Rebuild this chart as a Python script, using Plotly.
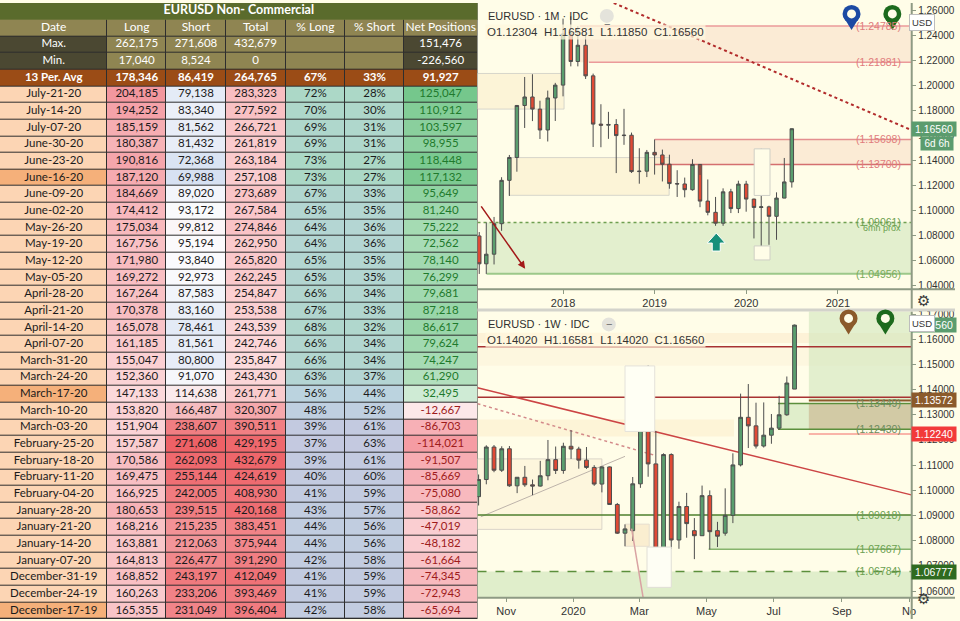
import plotly.graph_objects as go

W, H = 960, 621

# ---------------- COT table: EURUSD non-commercial ----------------
dates = ["July-21-20", "July-14-20", "July-07-20", "June-30-20", "June-23-20", "June-16-20",
         "June-09-20", "June-02-20", "May-26-20", "May-19-20", "May-12-20", "May-05-20",
         "April-28-20", "April-21-20", "April-14-20", "April-07-20", "March-31-20", "March-24-20",
         "March-17-20", "March-10-20", "March-03-20", "February-25-20", "February-18-20",
         "February-11-20", "February-04-20", "January-28-20", "January-21-20", "January-14-20",
         "January-07-20", "December-31-19", "December-24-19", "December-17-19"]
long_pos = [204185, 194252, 185159, 180387, 190816, 187120, 184669, 174412, 175034, 167756, 171980,
            169272, 167264, 170378, 165078, 161185, 155047, 152360, 147133, 153820, 151904, 157587,
            170586, 169475, 166925, 180653, 168216, 163881, 164813, 168852, 160263, 165355]
short_pos = [79138, 83340, 81562, 81432, 72368, 69988, 89020, 93172, 99812, 95194, 93840, 92973,
             87583, 83160, 78461, 81561, 80800, 91070, 114638, 166487, 238607, 271608, 262093,
             255144, 242005, 239515, 215235, 212063, 226477, 243197, 233206, 231049]
total_pos = [283323, 277592, 266721, 261819, 263184, 257108, 273689, 267584, 274846, 262950, 265820,
             262245, 254847, 253538, 243539, 242746, 235847, 243430, 261771, 320307, 390511, 429195,
             432679, 424619, 408930, 420168, 383451, 375944, 391290, 412049, 393469, 396404]
pct_long = [72, 70, 69, 69, 73, 73, 67, 65, 64, 64, 65, 65, 66, 67, 68, 66, 66, 63, 56, 48, 39, 37,
            39, 40, 41, 43, 44, 44, 42, 41, 41, 42]
pct_short = [28, 30, 31, 31, 27, 27, 33, 35, 36, 36, 35, 35, 34, 33, 32, 34, 34, 37, 44, 52, 61, 63,
             61, 60, 59, 57, 56, 56, 58, 59, 59, 58]
net_pos = [125047, 110912, 103597, 98955, 118448, 117132, 95649, 81240, 75222, 72562, 78140, 76299,
           79681, 87218, 86617, 79624, 74247, 61290, 32495, -12667, -86703, -114021, -91507, -85669,
           -75080, -58862, -47019, -48182, -61664, -74345, -72943, -65694]
highlight_dates = ["June-16-20", "March-17-20", "December-17-19"]

table_title = "EURUSD Non- Commercial"
columns = ["Date", "Long", "Short", "Total", "% Long", "% Short", "Net Positions"]
max_row = ["Max.", 262175, 271608, 432679, None, None, 151476]
min_row = ["Min.", 17040, 8524, 0, None, None, -226560]
avg_row = ["13 Per. Avg", 178346, 86419, 264765, 67, 33, 91927]

# ---------------- EURUSD monthly candles ----------------
m_dates = ["2017-02-01", "2017-03-01", "2017-04-01", "2017-05-01", "2017-06-01", "2017-07-01",
           "2017-08-01", "2017-09-01", "2017-10-01", "2017-11-01", "2017-12-01",
           "2018-01-01", "2018-02-01", "2018-03-01", "2018-04-01", "2018-05-01", "2018-06-01",
           "2018-07-01", "2018-08-01", "2018-09-01", "2018-10-01", "2018-11-01", "2018-12-01",
           "2019-01-01", "2019-02-01", "2019-03-01", "2019-04-01", "2019-05-01", "2019-06-01",
           "2019-07-01", "2019-08-01", "2019-09-01", "2019-10-01", "2019-11-01", "2019-12-01",
           "2020-01-01", "2020-02-01", "2020-03-01", "2020-04-01", "2020-05-01", "2020-06-01",
           "2020-07-01"]
m_open = [1.0798, 1.0575, 1.0652, 1.0896, 1.1243, 1.1426, 1.1842, 1.1910, 1.1813, 1.1646, 1.1902,
          1.2005, 1.2414, 1.2194, 1.2324, 1.2079, 1.1693, 1.1684, 1.1690, 1.1601, 1.1604, 1.1313, 1.1316,
          1.1467, 1.1446, 1.1372, 1.1217, 1.1214, 1.1168, 1.1370, 1.1077, 1.0987, 1.0900, 1.1151, 1.1017,
          1.1213, 1.1093, 1.1026, 1.1031, 1.0955, 1.1101, 1.12304]
m_high = [1.0829, 1.0906, 1.0950, 1.1268, 1.1446, 1.1846, 1.2070, 1.2092, 1.1880, 1.1961, 1.2023,
          1.2537, 1.2556, 1.2476, 1.2414, 1.2097, 1.1852, 1.1791, 1.1733, 1.1815, 1.1625, 1.1500, 1.1486,
          1.1570, 1.1489, 1.1448, 1.1324, 1.1265, 1.1412, 1.1286, 1.1250, 1.1110, 1.1179, 1.1175, 1.1240,
          1.1239, 1.1096, 1.1496, 1.1040, 1.1147, 1.1422, 1.16581]
m_low = [1.0494, 1.0494, 1.0570, 1.0839, 1.1118, 1.1312, 1.1662, 1.1717, 1.1574, 1.1554, 1.1718,
         1.1915, 1.2155, 1.2155, 1.2054, 1.1510, 1.1508, 1.1575, 1.1301, 1.1527, 1.1302, 1.1216, 1.1269,
         1.1289, 1.1234, 1.1176, 1.1110, 1.1107, 1.1160, 1.1028, 1.0963, 1.0879, 1.0879, 1.0981, 1.0981,
         1.0992, 1.0778, 1.0636, 1.0727, 1.0767, 1.1100, 1.11850]
m_close = [1.0575, 1.0652, 1.0896, 1.1243, 1.1426, 1.1842, 1.1910, 1.1813, 1.1646, 1.1902, 1.2005,
           1.2414, 1.2194, 1.2324, 1.2079, 1.1693, 1.1684, 1.1690, 1.1601, 1.1604, 1.1313, 1.1316, 1.1467,
           1.1446, 1.1372, 1.1217, 1.1214, 1.1168, 1.1370, 1.1077, 1.0987, 1.0900, 1.1151, 1.1017, 1.1213,
           1.1093, 1.1026, 1.1031, 1.0955, 1.1101, 1.12304, 1.16560]

# ---------------- EURUSD weekly candles ----------------
w_dates = ["2019-10-07", "2019-10-14", "2019-10-21", "2019-10-28", "2019-11-04", "2019-11-11",
           "2019-11-18", "2019-11-25", "2019-12-02", "2019-12-09", "2019-12-16", "2019-12-23",
           "2019-12-30", "2020-01-06", "2020-01-13", "2020-01-20", "2020-01-27", "2020-02-03",
           "2020-02-10", "2020-02-17", "2020-02-24", "2020-03-02", "2020-03-09", "2020-03-16",
           "2020-03-23", "2020-03-30", "2020-04-06", "2020-04-13", "2020-04-20", "2020-04-27",
           "2020-05-04", "2020-05-11", "2020-05-18", "2020-05-25", "2020-06-01", "2020-06-08",
           "2020-06-15", "2020-06-22", "2020-06-29", "2020-07-06", "2020-07-13", "2020-07-20"]
w_open = [1.0975, 1.1043, 1.1172, 1.1080, 1.1165, 1.1018, 1.1052, 1.1022, 1.1017, 1.1058, 1.1122,
          1.1079, 1.1175, 1.1164, 1.1120, 1.1091, 1.1025, 1.1093, 1.0944, 1.0830, 1.0840, 1.1026,
          1.1284, 1.1105, 1.0692, 1.1142, 1.0803, 1.0936, 1.0840, 1.0820, 1.0979, 1.0840, 1.0830,
          1.0901, 1.1101, 1.1290, 1.1256, 1.1176, 1.1219, 1.1247, 1.1300, 1.14020]
w_high = [1.1063, 1.1179, 1.1180, 1.1175, 1.1176, 1.1052, 1.1097, 1.1043, 1.1117, 1.1200, 1.1174,
          1.1189, 1.1239, 1.1173, 1.1172, 1.1100, 1.1096, 1.1095, 1.0950, 1.0865, 1.1053, 1.1355,
          1.1496, 1.1236, 1.1147, 1.1147, 1.0955, 1.0990, 1.0890, 1.1019, 1.1000, 1.0875, 1.1008,
          1.1147, 1.1384, 1.1422, 1.1348, 1.1349, 1.1303, 1.1375, 1.1452, 1.16581]
w_low = [1.0940, 1.1024, 1.1072, 1.1073, 1.1014, 1.0989, 1.1014, 1.0981, 1.1015, 1.1040, 1.1065,
         1.1066, 1.1125, 1.1086, 1.1085, 1.1018, 1.0992, 1.0942, 1.0827, 1.0778, 1.0799, 1.1010,
         1.1054, 1.0636, 1.0636, 1.0768, 1.0768, 1.0812, 1.0727, 1.0820, 1.0766, 1.0775, 1.0820,
         1.0870, 1.1095, 1.1168, 1.1166, 1.1170, 1.1185, 1.1240, 1.1296, 1.14020]
w_close = [1.1043, 1.1172, 1.1080, 1.1165, 1.1018, 1.1052, 1.1022, 1.1017, 1.1058, 1.1122, 1.1079,
           1.1175, 1.1164, 1.1120, 1.1091, 1.1025, 1.1093, 1.0944, 1.0830, 1.0847, 1.1026, 1.1284,
           1.1105, 1.0692, 1.1142, 1.0803, 1.0936, 1.0868, 1.0820, 1.0979, 1.0836, 1.0818, 1.0901,
           1.1101, 1.1290, 1.1256, 1.1176, 1.1219, 1.1247, 1.1300, 1.1426, 1.16560]

# ---------------- style ----------------
BG = "#fffde8"
TFONT = "Lato"
CFONT = "Liberation Sans"
TITLE_C, KHAKI, DARK, RUST = "#5a6b2c", "#8f8552", "#4b4832", "#9b4c16"
PEACH, PEACH_HI, BORDER = "#fcd5b4", "#f5b07a", "#2e2e2e"
UP, DOWN, EDGE = "#5a9e6e", "#e04a35", "#4d4d4d"
AXIS = "#8e9a84"
M_RANGE = ["2017-01-25", "2021-10-20"]
W_RANGE = ["2019-10-06", "2020-11-03"]


def px(x):
    return x / W


def py(y):
    return 1 - y / H


def rgb(h):
    h = h.lstrip("#")
    return [int(h[i:i + 2], 16) for i in (0, 2, 4)]


def mix(c1, c2, t):
    t = min(max(t, 0.0), 1.0)
    a, b = rgb(c1), rgb(c2)
    return "#%02x%02x%02x" % tuple(round(a[i] + (b[i] - a[i]) * t) for i in range(3))


def fmt(v):
    return "" if v is None else f"{v:,}"


# conditional-format colours (like the excel sheet)
lo_l, hi_l = min(long_pos), max(long_pos)
long_fill = [mix("#fcd9db", "#f3979e", (v - lo_l) / (hi_l - lo_l)) for v in long_pos]
s = sorted(short_pos)
med = (s[len(s) // 2 - 1] + s[len(s) // 2]) / 2
short_fill = [mix("#d7e1f2", "#fbfbfd", (v - s[0]) / (med - s[0])) if v <= med
              else mix("#fbfbfd", "#ee6166", (v - med) / (s[-1] - med)) for v in short_pos]
lo_t, hi_t = min(total_pos), max(total_pos)
total_fill = [mix("#fcdadc", "#ee666b", (v - lo_t) / (hi_t - lo_t)) for v in total_pos]
pct_fill = [mix("#c4c9e0", "#bcd3e0", (p - 37) / 18) if p <= 55
            else mix("#bcd3e0", "#abd8c6", (p - 55) / 18) for p in pct_long]
mx_n, mn_n = max(net_pos), min(net_pos)
net_fill = [mix("#eef8ef", "#75c78c", v / mx_n) if v >= 0 else mix("#fdf1f2", "#f59ca3", v / mn_n)
            for v in net_pos]

rows_txt, rows_fill, rows_font = [], [], []
rows_txt.append(columns)
rows_fill.append([KHAKI] * 7)
rows_font.append(["white"] * 7)
for r in (max_row, min_row):
    rows_txt.append([r[0]] + [fmt(v) for v in r[1:]])
    rows_fill.append([DARK, KHAKI, KHAKI, KHAKI, KHAKI, KHAKI, DARK])
    rows_font.append(["white"] * 7)
avg_txt = [avg_row[0], fmt(avg_row[1]), fmt(avg_row[2]), fmt(avg_row[3]),
           f"{avg_row[4]}%", f"{avg_row[5]}%", fmt(avg_row[6])]
rows_txt.append(["<b>%s</b>" % t for t in avg_txt])
rows_fill.append([RUST] * 7)
rows_font.append(["white"] * 7)
for i, d in enumerate(dates):
    rows_txt.append([d, fmt(long_pos[i]), fmt(short_pos[i]), fmt(total_pos[i]),
                     f"{pct_long[i]}%", f"{pct_short[i]}%", fmt(net_pos[i])])
    rows_fill.append([PEACH_HI if d in highlight_dates else PEACH, long_fill[i], short_fill[i],
                      total_fill[i], pct_fill[i], pct_fill[i], net_fill[i]])
    rows_font.append(["#1b1b1b"] * 6 + ["#1f7a2c" if net_pos[i] >= 0 else "#9e1b1b"])

palette = []


def cidx(c):
    if c not in palette:
        palette.append(c)
    return palette.index(c) + 0.5


z_main = [[cidx(c) for c in row] for row in rows_fill]
z_title = [[cidx(TITLE_C)]]
N = len(palette)
cscale = []
for k, c in enumerate(palette):
    cscale += [[k / N, c], [(k + 1) / N, c]]

col_edges = [0, 108, 167, 227, 287, 347, 406, 480]
col_mid = [(a + b) / 2 for a, b in zip(col_edges[:-1], col_edges[1:])]
n_rows = len(rows_txt)
row_edges = [i + 0.5 for i in range(n_rows + 1)]

fig = go.Figure()
fig.add_trace(go.Heatmap(x=[0, 480], y=[-0.5, 0.5], z=z_title, zmin=0, zmax=N, colorscale=cscale,
                         showscale=False, hoverinfo="skip", xaxis="x3", yaxis="y3"))
fig.add_trace(go.Heatmap(x=col_edges, y=row_edges, z=z_main, zmin=0, zmax=N, colorscale=cscale,
                         showscale=False, hoverinfo="skip", xgap=1, ygap=1, xaxis="x3", yaxis="y3"))

tx, ty, tt, tc, ts = [240], [0], ["<b>%s</b>" % table_title], ["white"], [12.5]
for r, row in enumerate(rows_txt):
    for j, t in enumerate(row):
        tx.append(col_mid[j])
        ty.append(r + 1)
        tt.append(t)
        tc.append(rows_font[r][j])
        ts.append(12 if r == 0 else 11.5)
fig.add_trace(go.Scatter(x=tx, y=ty, text=tt, mode="text", textposition="middle center",
                         textfont=dict(family=TFONT, size=ts, color=tc), hoverinfo="skip",
                         xaxis="x3", yaxis="y3"))

candle_style = dict(increasing=dict(fillcolor=UP, line=dict(color=EDGE, width=1)),
                    decreasing=dict(fillcolor=DOWN, line=dict(color=EDGE, width=1)),
                    showlegend=False, hoverinfo="skip")
fig.add_trace(go.Candlestick(x=m_dates, open=m_open, high=m_high, low=m_low, close=m_close,
                             xaxis="x", yaxis="y", **candle_style))
fig.add_trace(go.Candlestick(x=w_dates, open=w_open, high=w_high, low=w_low, close=w_close,
                             xaxis="x2", yaxis="y2", **candle_style))

shapes, ann = [], []


def line(x0, y0, x1, y1, xr, yr, color, width=1.5, dash="solid", layer="below"):
    shapes.append(dict(type="line", xref=xr, yref=yr, x0=x0, y0=y0, x1=x1, y1=y1, layer=layer,
                       line=dict(color=color, width=width, dash=dash)))


def rect(x0, y0, x1, y1, xr, yr, fill, edge=None, layer="below"):
    shapes.append(dict(type="rect", xref=xr, yref=yr, x0=x0, y0=y0, x1=x1, y1=y1, layer=layer,
                       fillcolor=fill, line=dict(color=edge or "rgba(0,0,0,0)", width=1 if edge else 0)))


def label(text, y, yr, color, size=10.5):
    ann.append(dict(text=text, xref="paper", yref=yr, x=px(908), y=y, xanchor="right",
                    yanchor="middle", showarrow=False, font=dict(family=CFONT, size=size, color=color)))


def price_tag(text, y, yr, bg, xc=938.5, width=42, size=10.5):
    ann.append(dict(text=text, xref="paper", yref=yr, x=px(xc), y=y, xanchor="center",
                    yanchor="middle", showarrow=False, bgcolor=bg, width=width, borderpad=1,
                    font=dict(family=CFONT, size=size, color="white")))


# table border background
rect(0, 0, 0.5, 1, "paper", "paper", BORDER)

# ---- monthly chart drawings ----
xr, yr = "x", "y"
rect("2018-03-09", 1.21881, M_RANGE[1], 1.24785, xr, yr, "rgba(247,212,190,0.45)")
rect("2019-01-01", 1.13700, M_RANGE[1], 1.15698, xr, yr, "rgba(247,212,190,0.45)")
rect(M_RANGE[0], 1.1813, "2018-01-05", 1.2098, xr, yr, "rgba(250,236,200,0.55)", "rgba(205,205,198,0.8)")
rect("2017-05-31", 1.1123, "2019-02-28", 1.1425, xr, yr, "rgba(250,236,200,0.55)", "rgba(205,205,198,0.8)")
rect("2017-03-02", 1.04956, M_RANGE[1], 1.09061, xr, yr, "rgba(208,230,188,0.6)")
line("2018-03-09", 1.24785, M_RANGE[1], 1.24785, xr, yr, "#eb9a9a")
line("2018-04-14", 1.21881, M_RANGE[1], 1.21881, xr, yr, "#eb9a9a")
line("2019-01-01", 1.15698, M_RANGE[1], 1.15698, xr, yr, "#e48f8f")
line("2019-01-01", 1.13700, M_RANGE[1], 1.13700, xr, yr, "#d46f6f")
line("2017-03-02", 1.04956, M_RANGE[1], 1.04956, xr, yr, "#9cc88a", 2)
line(M_RANGE[0], 1.09061, M_RANGE[1], 1.09061, xr, yr, "#6f9f50", 1.5, "dot")
line("2018-07-22", 1.2662, M_RANGE[1], 1.1646, xr, yr, "#b22b2b", 2, "dot", "above")
rect("2020-02-02", 1.1122, "2020-04-05", 1.1495, xr, yr, BG, "#cfcfc6", "above")
rect("2020-02-02", 1.0606, "2020-04-05", 1.0718, xr, yr, BG, "#cfcfc6", "above")
ann.append(dict(text="", x="2017-08-03", y=1.0535, xref=xr, yref=yr, ax=-45, ay=-64, showarrow=True,
                arrowhead=2, arrowsize=1, arrowwidth=1.5, arrowcolor="#a31919"))
for t, v in (("(1.24785)", 1.24785), ("(1.21881)", 1.21881), ("(1.15698)", 1.15698), ("(1.13700)", 1.137)):
    label(t, v, yr, "#e07c7c")
label("(1.09061)", 1.09061, yr, "#6a9f4f")
label("6mn prox", 1.0858, yr, "#6a9f4f", 9)
label("(1.04956)", 1.04956, yr, "#7aaa5a")

# ---- weekly chart drawings ----
xr, yr = "x2", "y2"
W0, W1 = W_RANGE
rect(W0, 1.1585, W1, 1.1625, xr, yr, "rgba(250,226,190,0.4)")
rect(W0, 1.1495, W1, 1.1565, xr, yr, "rgba(250,236,205,0.35)")
rect(W0, 1.1214, "2020-05-26", 1.1281, xr, yr, "rgba(250,232,195,0.45)")
rect(W0, 1.0845, "2020-01-27", 1.1125, xr, yr, "rgba(250,236,205,0.4)", "rgba(210,205,195,0.8)")
rect("2020-02-17", 1.0778, "2020-03-10", 1.0866, xr, yr, "rgba(250,236,205,0.9)", "#e6dfd0")
rect("2020-05-03", 1.07667, W1, 1.09018, xr, yr, "rgba(208,230,188,0.65)")
rect(W0, 1.0560, W1, 1.06784, xr, yr, "rgba(208,230,188,0.65)")
rect("2020-08-02", 1.1357, W1, 1.1720, xr, yr, "rgba(208,230,188,0.6)")
rect("2020-07-05", 1.1243, W1, 1.13449, xr, yr, "rgba(208,230,188,0.65)")
rect("2020-08-02", 1.1243, W1, 1.13449, xr, yr, "rgba(196,166,128,0.5)")
line(W0, 1.15698, W1, 1.15698, xr, yr, "#a83232")
line(W0, 1.13700, W1, 1.13700, xr, yr, "#a83232")
line(W0, 1.1407, W1, 1.0982, xr, yr, "#cc4444")
line(W0, 1.1344, "2020-03-15", 1.1139, xr, yr, "#d38a8a", 1.5, "dot")
line("2019-10-09", 1.0895, "2020-02-17", 1.1135, xr, yr, "#bdb3aa", 1)
line("2020-02-23", 1.0848, "2020-03-05", 1.0560, xr, yr, "#d9a3a3", 1.5, "solid", "above")
line(W0, 1.09018, W1, 1.09018, xr, yr, "#4e7f2e")
line("2020-05-03", 1.07667, W1, 1.07667, xr, yr, "#86b36c")
line(W0, 1.06784, W1, 1.06784, xr, yr, "#5b8f3c", 1.5, "dash")
line("2020-07-05", 1.13449, W1, 1.13449, xr, yr, "#5b8f3c")
line("2020-07-05", 1.12430, W1, 1.12430, xr, yr, "#5b8f3c")
line("2020-08-02", 1.13572, W1, 1.13572, xr, yr, "#8b5a2b", 2)
line("2020-08-02", 1.12240, W1, 1.12240, xr, yr, "rgba(240,90,90,0.6)")
rect("2020-02-17", 1.1234, "2020-03-15", 1.1494, xr, yr, "#fffff4", "#e4e2da", "above")
rect("2020-03-08", 1.0615, "2020-03-30", 1.0775, xr, yr, "#fefef4", "#e0ded6", "above")
label("(1.13449)", 1.13449, yr, "#6d8b5e")
label("(1.12430)", 1.12430, yr, "#6d8b5e")
for t, v in (("(1.09018)", 1.09018), ("(1.07667)", 1.07667), ("(1.06784)", 1.06784)):
    label(t, v, yr, "#6aa050")

# ---- axis frames / separators ----
line(px(916.5), py(0), px(916.5), py(309), "paper", "paper", AXIS, 2, layer="above")
line(px(916.5), py(311), px(916.5), py(621), "paper", "paper", AXIS, 2, layer="above")
line(px(480), py(288.5), px(960), py(288.5), "paper", "paper", AXIS, 2, layer="above")
line(px(480), py(599.5), px(960), py(599.5), "paper", "paper", AXIS, 2, layer="above")
line(px(480), py(309.5), px(960), py(309.5), "paper", "paper", "#d3d3cb", 3, layer="above")

# ---- price tags on the scale ----
price_tag("1.16560", 1.1656, "y", "#5b9c6e")
price_tag("6d 6h", py(142), "paper", "#5b9c6e", 942, 30, 10)
price_tag("1.16560", 1.1656, "y2", "#5b9c6e")
price_tag("1.13572", 1.13572, "y2", "#8b5a2b")
price_tag("1.12240", 1.12240, "y2", "#f23a3a")
price_tag("1.06777", 1.06777, "y2", "#2f6b20")
for yy in (11.5, 323):
    ann.append(dict(text="USD", xref="paper", yref="paper", x=px(940), y=py(yy), showarrow=False,
                    bgcolor="white", bordercolor="#bdbdbd", borderwidth=1, borderpad=2,
                    font=dict(family=CFONT, size=9.5, color="#333")))
for yy in (300, 612):
    ann.append(dict(text="⚙", xref="paper", yref="paper", x=px(937), y=py(yy), showarrow=False,
                    font=dict(family="DejaVu Sans", size=15, color="#3a3a3a")))

# ---- chart headers ----
for yy, tf, ohlc, mx in ((13, "1M", "O1.12304  H1.16581  L1.11850  C1.16560", 610),
                         (324, "1W", "O1.14020  H1.16581  L1.14020  C1.16560", 612)):
    ann.append(dict(text="EURUSD · %s · IDC" % tf, xref="paper", yref="paper", x=px(489), y=py(yy),
                    xanchor="left", yanchor="middle", showarrow=False,
                    font=dict(family=CFONT, size=11, color="#2f2f2f")))
    ann.append(dict(text=ohlc, xref="paper", yref="paper", x=px(488), y=py(yy + 16), xanchor="left",
                    yanchor="middle", showarrow=False, bgcolor="rgba(255,247,222,0.75)",
                    font=dict(family=CFONT, size=11.5, color="#333")))
    shapes.append(dict(type="circle", xref="paper", yref="paper", xsizemode="pixel", ysizemode="pixel",
                       xanchor=px(mx), yanchor=py(yy), x0=-7, x1=7, y0=-7, y1=7,
                       fillcolor="#e4e3db", line=dict(width=0), layer="above"))
    ann.append(dict(text="−", xref="paper", yref="paper", x=px(mx), y=py(yy), showarrow=False,
                    font=dict(family=CFONT, size=11, color="#6b6b6b")))

# ---- map pins and the up arrow ----
for cx, cy, col in ((856, 11, "#1c4aa3"), (897, 11, "#1d6a1d"), (853, 318, "#8b5a2b"), (890, 318, "#1d6a1d")):
    common = dict(xref="paper", yref="paper", xsizemode="pixel", ysizemode="pixel",
                  xanchor=px(cx), yanchor=py(cy), layer="above", line=dict(width=0))
    shapes.append(dict(type="path", path="M -8,-3 L 8,-3 L 0,-16 Z", fillcolor=col, **common))
    shapes.append(dict(type="circle", x0=-9, x1=9, y0=-9, y1=9, fillcolor=col, **common))
    shapes.append(dict(type="circle", x0=-4.5, x1=4.5, y0=-4.5, y1=4.5, fillcolor=BG, **common))
shapes.append(dict(type="path", xref="paper", yref="paper", xsizemode="pixel", ysizemode="pixel",
                   xanchor=px(720), yanchor=py(241), layer="above",
                   path="M 0,9 L 9,-1 L 4,-1 L 4,-9 L -4,-9 L -4,-1 L -9,-1 Z",
                   fillcolor="#16907a", line=dict(color="white", width=1)))

tick_font = dict(family=CFONT, size=11, color="#333")
ytick_font = dict(family=CFONT, size=10, color="#333")
m_ticks = [1.04, 1.06, 1.08, 1.10, 1.12, 1.14, 1.16, 1.18, 1.20, 1.22, 1.24, 1.26]
w_ticks = [1.06, 1.07, 1.08, 1.09, 1.10, 1.11, 1.12, 1.13, 1.14, 1.15, 1.16, 1.17]
axis_common = dict(showgrid=False, zeroline=False, showline=False, ticks="outside", ticklen=4,
                   tickcolor=AXIS, fixedrange=True)

fig.update_layout(
    width=W, height=H, autosize=False, margin=dict(l=0, r=0, t=0, b=0),
    paper_bgcolor=BG, plot_bgcolor=BG, showlegend=False,
    shapes=shapes, annotations=ann,
    xaxis=dict(domain=[0.5, px(916)], range=M_RANGE, type="date", anchor="y",
               rangeslider=dict(visible=False), tickvals=["2018-01-01", "2019-01-01", "2020-01-01", "2021-01-01"],
               ticktext=["2018", "2019", "2020", "2021"], tickfont=tick_font, **axis_common),
    yaxis=dict(domain=[py(288), 1], range=[1.0376, 1.2662], side="right", anchor="x",
               tickvals=m_ticks, tickformat=".5f", tickfont=ytick_font, **axis_common),
    xaxis2=dict(domain=[0.5, px(916)], range=W_RANGE, type="date", anchor="y2",
                rangeslider=dict(visible=False),
                tickvals=["2019-11-01", "2020-01-01", "2020-03-01", "2020-05-01", "2020-07-01",
                          "2020-09-01", "2020-11-01"],
                ticktext=["Nov", "2020", "Mar", "May", "Jul", "Sep", "No"], tickfont=tick_font, **axis_common),
    yaxis2=dict(domain=[py(599), py(311)], range=[1.0576, 1.1710], side="right", anchor="x2",
                tickvals=w_ticks, tickformat=".5f", tickfont=ytick_font, **axis_common),
    xaxis3=dict(domain=[0, 0.5], range=[0, 480], visible=False, fixedrange=True, anchor="y3"),
    yaxis3=dict(domain=[0, 1], range=[n_rows + 0.5, -0.5], visible=False, fixedrange=True, anchor="x3"),
)

# the page's default 8px body margin would push the 960x621 figure off the window
fig.write_html("out.html", config={"displayModeBar": False},
               post_script="document.body.style.margin='0';")
